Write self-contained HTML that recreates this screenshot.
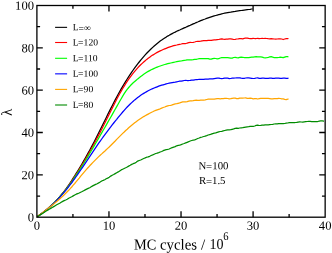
<!DOCTYPE html>
<html><head><meta charset="utf-8"><title>plot</title>
<style>html,body{margin:0;padding:0;background:#fff;overflow:hidden}svg{display:block;will-change:transform}text{font-family:"Liberation Serif",serif;fill:#000}</style></head><body>
<svg width="332" height="253" viewBox="0 0 332 253">
<rect x="0" y="0" width="332" height="253" fill="#fff"/>
<g fill="none" stroke-linejoin="round" stroke-linecap="butt" stroke-width="1.25">
<polyline stroke="#000000" points="37.2,216.8 38.7,215.7 40.2,214.6 41.7,213.4 43.2,212.3 44.7,211.1 46.2,209.9 47.7,208.6 49.2,207.3 50.7,206.0 52.2,204.6 53.7,203.2 55.2,201.7 56.7,200.1 58.2,198.5 59.7,196.8 61.2,195.0 62.7,193.2 64.2,191.3 65.7,189.3 67.2,187.2 68.7,185.1 70.2,182.9 71.7,180.6 73.2,178.2 74.7,175.9 76.2,173.4 77.7,171.0 79.2,168.5 80.7,166.0 82.2,163.5 83.7,160.9 85.2,158.3 86.7,155.6 88.2,152.9 89.7,150.2 91.2,147.4 92.7,144.6 94.2,141.7 95.7,138.8 97.2,135.8 98.7,132.8 100.2,129.8 101.7,126.8 103.2,123.7 104.7,120.7 106.2,117.7 107.7,114.6 109.2,111.6 110.7,108.6 112.2,105.7 113.7,102.8 115.2,99.9 116.7,97.1 118.2,94.3 119.7,91.6 121.2,88.9 122.7,86.4 124.2,83.8 125.7,81.4 127.2,79.0 128.7,76.6 130.2,74.4 131.7,72.2 133.2,70.0 134.7,67.9 136.2,65.9 137.7,63.9 139.2,62.0 140.7,60.1 142.2,58.3 143.7,56.6 145.2,54.9 146.7,53.3 148.2,51.7 149.7,50.2 151.2,48.8 152.7,47.4 154.2,46.0 155.7,44.7 157.2,43.5 158.7,42.3 160.2,41.1 161.7,40.1 163.2,39.0 164.7,38.0 166.2,37.1 167.7,36.1 169.2,35.3 170.7,34.4 172.2,33.6 173.7,32.8 175.2,32.1 176.7,31.3 178.2,30.6 179.7,30.0 181.2,29.3 182.7,28.6 184.2,27.9 185.7,27.3 187.2,26.6 188.7,25.9 190.2,25.3 191.7,24.6 193.2,23.9 194.7,23.3 196.2,22.6 197.7,22.0 199.2,21.3 200.7,20.7 202.2,20.1 203.7,19.5 205.2,19.0 206.7,18.4 208.2,17.9 209.7,17.4 211.2,16.9 212.7,16.4 214.2,15.9 215.7,15.5 217.2,15.1 218.7,14.7 220.2,14.3 221.7,13.9 223.2,13.5 224.7,13.2 226.2,12.9 227.7,12.6 229.2,12.3 230.7,12.1 232.2,11.8 233.7,11.6 235.2,11.4 236.7,11.1 238.2,10.9 239.7,10.7 241.2,10.5 242.7,10.3 244.2,10.1 245.7,9.9 247.2,9.7 248.7,9.5 250.2,9.3 251.7,9.0 252.6,8.9"/>
<polyline stroke="#ff0000" points="37.2,216.8 38.7,215.6 40.2,214.5 41.7,213.4 43.2,212.2 44.7,211.1 46.2,209.9 47.7,208.7 49.2,207.4 50.7,206.1 52.2,204.8 53.7,203.4 55.2,201.9 56.7,200.3 58.2,198.7 59.7,197.0 61.2,195.2 62.7,193.3 64.2,191.4 65.7,189.5 67.2,187.5 68.7,185.4 70.2,183.3 71.7,181.1 73.2,178.9 74.7,176.6 76.2,174.3 77.7,172.0 79.2,169.6 80.7,167.1 82.2,164.7 83.7,162.2 85.2,159.6 86.7,157.0 88.2,154.4 89.7,151.7 91.2,149.0 92.7,146.3 94.2,143.5 95.7,140.7 97.2,137.9 98.7,135.1 100.2,132.2 101.7,129.2 103.2,126.3 104.7,123.3 106.2,120.3 107.7,117.3 109.2,114.3 110.7,111.3 112.2,108.2 113.7,105.2 115.2,102.2 116.7,99.3 118.2,96.5 119.7,93.8 121.2,91.1 122.7,88.5 124.2,86.1 125.7,83.7 127.2,81.4 128.7,79.2 130.2,77.1 131.7,75.1 133.2,73.2 134.7,71.4 136.2,69.6 137.7,67.9 139.2,66.3 140.7,64.8 142.2,63.4 143.7,62.0 145.2,60.7 146.7,59.4 148.2,58.3 149.7,57.2 151.2,56.1 152.7,55.1 154.2,54.2 155.7,53.3 157.2,52.4 158.7,51.6 160.2,50.9 161.7,50.2 163.2,49.5 164.7,48.9 166.2,48.3 167.7,47.7 169.2,47.1 170.7,46.6 172.2,46.2 173.7,45.7 175.2,45.3 176.7,45.0 178.2,44.6 179.7,44.3 181.2,44.0 182.7,43.6 184.2,43.5 185.7,43.5 187.2,43.1 188.7,42.6 190.2,42.4 191.7,42.5 193.2,42.3 194.7,42.0 196.2,41.5 197.7,41.4 199.2,41.4 200.7,41.2 202.2,40.9 203.7,40.7 205.2,40.6 206.7,40.6 208.2,40.4 209.7,40.4 211.2,40.4 212.7,40.1 214.2,39.9 215.7,39.9 217.2,39.7 218.7,39.5 220.2,39.1 221.7,38.9 223.2,39.2 224.7,39.3 226.2,39.2 227.7,39.1 229.2,38.9 230.7,38.8 232.2,39.1 233.7,39.5 235.2,39.3 236.7,39.0 238.2,38.9 239.7,38.7 241.2,38.7 242.7,38.8 244.2,38.4 245.7,38.0 247.2,38.1 248.7,38.4 250.2,38.6 251.7,38.6 253.2,38.4 254.7,38.5 256.2,38.5 257.7,38.4 259.2,38.6 260.7,38.5 262.2,38.4 263.7,38.5 265.2,38.4 266.7,38.5 268.2,38.7 269.7,38.8 271.2,38.7 272.7,38.8 274.2,39.0 275.7,39.1 277.2,39.0 278.7,38.9 280.2,38.8 281.7,39.0 283.2,39.5 284.7,39.0 286.2,38.6 287.7,38.7 288.5,38.5"/>
<polyline stroke="#00ff00" points="37.2,216.8 38.7,215.8 40.2,214.8 41.7,213.7 43.2,212.5 44.7,211.4 46.2,210.1 47.7,208.9 49.2,207.5 50.7,206.2 52.2,204.8 53.7,203.3 55.2,201.8 56.7,200.2 58.2,198.6 59.7,196.9 61.2,195.2 62.7,193.5 64.2,191.6 65.7,189.8 67.2,187.8 68.7,185.9 70.2,183.8 71.7,181.8 73.2,179.6 74.7,177.4 76.2,175.2 77.7,172.9 79.2,170.6 80.7,168.3 82.2,165.9 83.7,163.5 85.2,161.0 86.7,158.6 88.2,156.1 89.7,153.5 91.2,151.0 92.7,148.4 94.2,145.9 95.7,143.3 97.2,140.7 98.7,138.1 100.2,135.5 101.7,132.9 103.2,130.3 104.7,127.7 106.2,125.1 107.7,122.4 109.2,119.8 110.7,117.2 112.2,114.6 113.7,111.9 115.2,109.3 116.7,106.6 118.2,104.0 119.7,101.3 121.2,98.7 122.7,96.1 124.2,93.7 125.7,91.4 127.2,89.3 128.7,87.5 130.2,85.8 131.7,84.3 133.2,82.8 134.7,81.5 136.2,80.2 137.7,78.9 139.2,77.7 140.7,76.5 142.2,75.4 143.7,74.3 145.2,73.3 146.7,72.3 148.2,71.4 149.7,70.6 151.2,69.8 152.7,69.1 154.2,68.4 155.7,67.7 157.2,67.1 158.7,66.5 160.2,66.0 161.7,65.5 163.2,65.0 164.7,64.5 166.2,64.1 167.7,63.7 169.2,63.3 170.7,63.0 172.2,62.7 173.7,62.3 175.2,62.0 176.7,61.7 178.2,61.4 179.7,61.2 181.2,61.0 182.7,60.6 184.2,60.4 185.7,60.2 187.2,59.9 188.7,59.8 190.2,59.8 191.7,59.8 193.2,59.7 194.7,59.4 196.2,59.3 197.7,59.0 199.2,58.7 200.7,58.6 202.2,58.7 203.7,58.7 205.2,58.7 206.7,58.6 208.2,58.6 209.7,59.1 211.2,59.2 212.7,58.6 214.2,58.3 215.7,58.5 217.2,58.8 218.7,58.7 220.2,58.0 221.7,57.7 223.2,57.6 224.7,57.5 226.2,57.5 227.7,57.7 229.2,57.9 230.7,58.2 232.2,58.1 233.7,57.5 235.2,57.3 236.7,57.6 238.2,57.8 239.7,57.4 241.2,57.1 242.7,57.3 244.2,57.5 245.7,57.5 247.2,57.7 248.7,57.6 250.2,57.3 251.7,57.1 253.2,57.1 254.7,56.9 256.2,56.7 257.7,56.8 259.2,56.9 260.7,56.9 262.2,57.2 263.7,57.7 265.2,57.8 266.7,57.7 268.2,57.5 269.7,56.9 271.2,56.7 272.7,57.2 274.2,57.6 275.7,57.6 277.2,57.7 278.7,57.5 280.2,57.1 281.7,57.4 283.2,57.7 284.7,57.1 286.2,56.6 287.7,56.7 288.4,56.9"/>
<polyline stroke="#0000ff" points="37.2,216.8 38.7,215.8 40.2,214.7 41.7,213.6 43.2,212.5 44.7,211.3 46.2,210.1 47.7,208.9 49.2,207.6 50.7,206.2 52.2,204.8 53.7,203.4 55.2,201.9 56.7,200.4 58.2,198.9 59.7,197.3 61.2,195.6 62.7,193.9 64.2,192.2 65.7,190.4 67.2,188.6 68.7,186.7 70.2,184.7 71.7,182.8 73.2,180.7 74.7,178.7 76.2,176.5 77.7,174.4 79.2,172.2 80.7,170.0 82.2,167.8 83.7,165.6 85.2,163.3 86.7,161.1 88.2,158.8 89.7,156.6 91.2,154.3 92.7,152.1 94.2,149.8 95.7,147.6 97.2,145.4 98.7,143.2 100.2,141.1 101.7,139.0 103.2,136.9 104.7,134.8 106.2,132.8 107.7,130.8 109.2,128.8 110.7,126.9 112.2,124.9 113.7,123.0 115.2,121.1 116.7,119.3 118.2,117.4 119.7,115.6 121.2,113.8 122.7,112.0 124.2,110.3 125.7,108.6 127.2,107.0 128.7,105.5 130.2,104.0 131.7,102.6 133.2,101.2 134.7,99.9 136.2,98.7 137.7,97.5 139.2,96.4 140.7,95.3 142.2,94.3 143.7,93.4 145.2,92.5 146.7,91.6 148.2,90.8 149.7,90.0 151.2,89.3 152.7,88.6 154.2,88.0 155.7,87.4 157.2,86.8 158.7,86.2 160.2,85.7 161.7,85.2 163.2,84.8 164.7,84.4 166.2,83.9 167.7,83.5 169.2,83.2 170.7,82.9 172.2,82.6 173.7,82.3 175.2,82.1 176.7,81.8 178.2,81.5 179.7,81.2 181.2,81.1 182.7,80.8 184.2,80.5 185.7,80.4 187.2,80.5 188.7,80.5 190.2,80.4 191.7,80.1 193.2,80.1 194.7,79.8 196.2,79.5 197.7,79.5 199.2,79.4 200.7,79.4 202.2,79.4 203.7,79.4 205.2,79.2 206.7,79.0 208.2,79.1 209.7,78.9 211.2,78.8 212.7,78.9 214.2,78.6 215.7,78.4 217.2,78.2 218.7,78.1 220.2,78.4 221.7,78.6 223.2,78.4 224.7,78.1 226.2,78.0 227.7,78.2 229.2,78.6 230.7,78.5 232.2,78.2 233.7,78.1 235.2,78.0 236.7,77.9 238.2,77.8 239.7,77.9 241.2,78.2 242.7,78.4 244.2,78.3 245.7,78.0 247.2,77.9 248.7,77.9 250.2,78.1 251.7,78.3 253.2,78.5 254.7,78.4 256.2,78.0 257.7,77.9 259.2,78.3 260.7,78.4 262.2,78.1 263.7,78.2 265.2,78.4 266.7,78.3 268.2,78.4 269.7,78.2 271.2,78.1 272.7,78.4 274.2,78.4 275.7,78.2 277.2,78.2 278.7,78.1 280.2,78.3 281.7,78.3 283.2,78.2 284.7,78.2 286.2,78.3 287.7,78.3 288.5,78.1"/>
<polyline stroke="#ffa500" points="37.2,216.8 38.7,215.6 40.2,214.5 41.7,213.4 43.2,212.2 44.7,211.1 46.2,209.9 47.7,208.8 49.2,207.6 50.7,206.5 52.2,205.3 53.7,204.1 55.2,202.8 56.7,201.6 58.2,200.3 59.7,199.0 61.2,197.6 62.7,196.2 64.2,194.8 65.7,193.3 67.2,191.8 68.7,190.3 70.2,188.6 71.7,187.0 73.2,185.2 74.7,183.5 76.2,181.7 77.7,179.9 79.2,178.1 80.7,176.2 82.2,174.4 83.7,172.6 85.2,170.9 86.7,169.2 88.2,167.5 89.7,165.8 91.2,164.2 92.7,162.6 94.2,161.1 95.7,159.6 97.2,158.1 98.7,156.6 100.2,155.2 101.7,153.9 103.2,152.5 104.7,151.2 106.2,149.8 107.7,148.4 109.2,147.0 110.7,145.5 112.2,144.0 113.7,142.5 115.2,141.0 116.7,139.4 118.2,137.9 119.7,136.4 121.2,134.9 122.7,133.4 124.2,132.0 125.7,130.5 127.2,129.2 128.7,127.8 130.2,126.5 131.7,125.2 133.2,124.0 134.7,122.8 136.2,121.7 137.7,120.6 139.2,119.6 140.7,118.6 142.2,117.6 143.7,116.6 145.2,115.7 146.7,114.9 148.2,114.1 149.7,113.3 151.2,112.5 152.7,111.8 154.2,111.0 155.7,110.4 157.2,109.8 158.7,109.3 160.2,108.8 161.7,108.1 163.2,107.5 164.7,107.0 166.2,106.4 167.7,105.9 169.2,105.5 170.7,105.3 172.2,104.9 173.7,104.3 175.2,103.9 176.7,103.7 178.2,103.3 179.7,102.9 181.2,102.4 182.7,101.9 184.2,101.9 185.7,101.9 187.2,101.6 188.7,101.1 190.2,100.8 191.7,100.8 193.2,100.6 194.7,100.3 196.2,100.1 197.7,100.3 199.2,100.3 200.7,100.1 202.2,100.0 203.7,100.1 205.2,99.9 206.7,99.5 208.2,99.1 209.7,99.0 211.2,99.0 212.7,99.2 214.2,99.1 215.7,98.8 217.2,98.6 218.7,98.6 220.2,98.8 221.7,98.7 223.2,98.6 224.7,98.4 226.2,98.3 227.7,98.5 229.2,98.9 230.7,98.7 232.2,98.3 233.7,98.1 235.2,98.2 236.7,98.7 238.2,98.7 239.7,98.1 241.2,98.0 242.7,98.2 244.2,98.0 245.7,97.9 247.2,98.3 248.7,98.4 250.2,98.1 251.7,98.4 253.2,98.8 254.7,98.7 256.2,98.7 257.7,99.0 259.2,98.7 260.7,98.4 262.2,98.4 263.7,98.4 265.2,98.4 266.7,98.3 268.2,98.4 269.7,98.6 271.2,98.8 272.7,98.9 274.2,98.7 275.7,98.7 277.2,98.6 278.7,98.3 280.2,98.5 281.7,98.8 283.2,98.8 284.7,99.3 286.2,99.6 287.7,99.1 288.5,98.8"/>
<polyline stroke="#008b00" points="37.2,216.8 38.7,215.8 40.2,214.8 41.7,213.9 43.2,212.9 44.7,211.9 46.2,211.0 47.7,210.1 49.2,209.2 50.7,208.4 52.2,207.5 53.7,206.6 55.2,205.7 56.7,204.8 58.2,204.0 59.7,203.3 61.2,202.3 62.7,201.4 64.2,200.6 65.7,200.0 67.2,199.2 68.7,198.2 70.2,197.5 71.7,196.8 73.2,195.9 74.7,195.0 76.2,194.2 77.7,193.6 79.2,193.0 80.7,192.2 82.2,191.5 83.7,190.7 85.2,189.9 86.7,189.1 88.2,188.4 89.7,187.7 91.2,186.8 92.7,185.9 94.2,185.1 95.7,184.4 97.2,183.7 98.7,182.9 100.2,182.0 101.7,181.0 103.2,180.4 104.7,179.7 106.2,178.8 107.7,178.1 109.2,177.2 110.7,176.1 112.2,175.2 113.7,174.5 115.2,173.6 116.7,172.7 118.2,171.9 119.7,170.9 121.2,169.9 122.7,169.2 124.2,168.5 125.7,167.8 127.2,167.0 128.7,166.1 130.2,165.3 131.7,164.4 133.2,163.7 134.7,163.2 136.2,162.2 137.7,161.1 139.2,160.5 140.7,160.0 142.2,159.2 143.7,158.5 145.2,157.9 146.7,157.2 148.2,156.9 149.7,156.3 151.2,155.5 152.7,154.9 154.2,154.2 155.7,153.5 157.2,153.1 158.7,152.6 160.2,152.0 161.7,151.5 163.2,150.7 164.7,150.1 166.2,149.7 167.7,149.4 169.2,149.0 170.7,148.3 172.2,147.6 173.7,147.1 175.2,146.6 176.7,145.8 178.2,145.4 179.7,145.1 181.2,144.6 182.7,144.0 184.2,143.5 185.7,142.9 187.2,142.3 188.7,141.7 190.2,141.0 191.7,140.5 193.2,140.2 194.7,139.9 196.2,139.2 197.7,138.5 199.2,138.0 200.7,137.4 202.2,137.0 203.7,136.5 205.2,136.1 206.7,135.6 208.2,135.0 209.7,134.6 211.2,134.2 212.7,133.6 214.2,133.2 215.7,132.9 217.2,132.4 218.7,131.9 220.2,131.5 221.7,131.3 223.2,130.9 224.7,130.5 226.2,130.2 227.7,129.9 229.2,129.8 230.7,129.7 232.2,129.3 233.7,128.9 235.2,128.4 236.7,128.2 238.2,128.3 239.7,128.0 241.2,127.8 242.7,127.7 244.2,127.4 245.7,127.1 247.2,126.9 248.7,126.7 250.2,126.4 251.7,126.4 253.2,126.4 254.7,126.0 256.2,125.4 257.7,125.2 259.2,125.5 260.7,125.4 262.2,125.2 263.7,125.1 265.2,124.8 266.7,124.8 268.2,124.8 269.7,124.6 271.2,124.5 272.7,124.3 274.2,124.0 275.7,123.9 277.2,123.9 278.7,123.6 280.2,123.5 281.7,123.6 283.2,123.7 284.7,123.5 286.2,123.2 287.7,123.0 289.2,122.7 290.7,122.6 292.2,122.6 293.7,122.5 295.2,122.5 296.7,122.4 298.2,122.1 299.7,121.9 301.2,122.0 302.7,122.1 304.2,121.9 305.7,121.7 307.2,121.5 308.7,121.4 310.2,121.4 311.7,121.6 313.2,121.7 314.7,121.5 316.2,121.5 317.7,121.5 319.2,121.1 320.7,120.8 322.2,120.9 323.7,121.1 324.0,121.1"/>
</g>
<g stroke="#000" stroke-width="1.30" fill="none">
<rect x="36.90" y="5.50" width="288.25" height="211.70"/>
<path d="M72.93 217.20v-3.20M72.93 5.50v3.20M108.96 217.20v-5.90M108.96 5.50v5.90M144.99 217.20v-3.20M144.99 5.50v3.20M181.03 217.20v-5.90M181.03 5.50v5.90M217.06 217.20v-3.20M217.06 5.50v3.20M253.09 217.20v-5.90M253.09 5.50v5.90M289.12 217.20v-3.20M289.12 5.50v3.20M36.90 196.03h3.20M325.15 196.03h-3.20M36.90 174.86h5.90M325.15 174.86h-5.90M36.90 153.69h3.20M325.15 153.69h-3.20M36.90 132.52h5.90M325.15 132.52h-5.90M36.90 111.35h3.20M325.15 111.35h-3.20M36.90 90.18h5.90M325.15 90.18h-5.90M36.90 69.01h3.20M325.15 69.01h-3.20M36.90 47.84h5.90M325.15 47.84h-5.90M36.90 26.67h3.20M325.15 26.67h-3.20"/>
</g>
<text transform="translate(36.90,229.70) rotate(0.03)" font-size="12.60px" text-anchor="middle">0</text>
<text transform="translate(108.96,229.70) rotate(0.03)" font-size="12.60px" text-anchor="middle">10</text>
<text transform="translate(181.03,229.70) rotate(0.03)" font-size="12.60px" text-anchor="middle">20</text>
<text transform="translate(253.09,229.70) rotate(0.03)" font-size="12.60px" text-anchor="middle">30</text>
<text transform="translate(325.15,229.70) rotate(0.03)" font-size="12.60px" text-anchor="middle">40</text>
<text transform="translate(34.00,221.50) rotate(0.03)" font-size="12.60px" text-anchor="end">0</text>
<text transform="translate(34.00,179.16) rotate(0.03)" font-size="12.60px" text-anchor="end">20</text>
<text transform="translate(34.00,136.82) rotate(0.03)" font-size="12.60px" text-anchor="end">40</text>
<text transform="translate(34.00,94.48) rotate(0.03)" font-size="12.60px" text-anchor="end">60</text>
<text transform="translate(34.00,52.14) rotate(0.03)" font-size="12.60px" text-anchor="end">80</text>
<text transform="translate(34.00,9.80) rotate(0.03)" font-size="12.60px" text-anchor="end">100</text>
<text transform="translate(133.90,249.40) rotate(0.03)" font-size="15.10px" textLength="22.30" lengthAdjust="spacingAndGlyphs">MC</text>
<text transform="translate(159.95,249.40) rotate(0.03)" font-size="15.10px" textLength="37.10" lengthAdjust="spacingAndGlyphs">cycles</text>
<text transform="translate(200.90,249.40) rotate(0.03)" font-size="15.10px">/</text>
<text transform="translate(209.60,249.40) rotate(0.03)" font-size="15.10px" textLength="14.00" lengthAdjust="spacingAndGlyphs">10</text>
<text transform="translate(223.20,240.40) rotate(0.03)" font-size="11.60px" textLength="5.30" lengthAdjust="spacingAndGlyphs">6</text>
<text transform="translate(11.80,112.30) rotate(-89.97)" font-size="15.00px" text-anchor="middle">λ</text>
<line x1="55.1" x2="67.1" y1="27.35" y2="27.35" stroke="#000000" stroke-width="1.10"/>
<text x="72.80" y="30.25" font-size="9.60px" rotate="0.03 0 0.03" dx="0 -0.3 0.2" dy="0 1.3 -0.5">L=∞</text>
<line x1="55.1" x2="67.1" y1="42.50" y2="42.50" stroke="#ff0000" stroke-width="1.10"/>
<text x="72.80" y="45.40" font-size="9.60px" rotate="0.03 0 0.03" dx="0 -0.6 0.1" dy="0 0.5 -0.5">L=120</text>
<line x1="55.1" x2="67.1" y1="58.30" y2="58.30" stroke="#00ff00" stroke-width="1.10"/>
<text x="72.80" y="61.20" font-size="9.60px" rotate="0.03 0 0.03" dx="0 -0.6 0.1" dy="0 0.5 -0.5">L=110</text>
<line x1="55.1" x2="67.1" y1="73.85" y2="73.85" stroke="#0000ff" stroke-width="1.10"/>
<text x="72.80" y="76.75" font-size="9.60px" rotate="0.03 0 0.03" dx="0 -0.6 0.1" dy="0 0.5 -0.5">L=100</text>
<line x1="55.1" x2="67.1" y1="89.40" y2="89.40" stroke="#ffa500" stroke-width="1.10"/>
<text x="72.80" y="92.30" font-size="9.60px" rotate="0.03 0 0.03" dx="0 -0.6 0.1" dy="0 0.5 -0.5">L=90</text>
<line x1="55.1" x2="67.1" y1="105.00" y2="105.00" stroke="#008b00" stroke-width="1.10"/>
<text x="72.80" y="107.90" font-size="9.60px" rotate="0.03 0 0.03" dx="0 -0.6 0.1" dy="0 0.5 -0.5">L=80</text>
<text x="198.60" y="169.25" font-size="10.80px" rotate="0.03 0 0.03" dx="0 -0.3 0.1" dy="0 0.5 -0.5">N=100</text>
<text x="198.90" y="184.00" font-size="10.80px" rotate="0.03 0 0.03" dx="0 -0.2 0" dy="0 0.5 -0.5">R=1.5</text>
</svg></body></html>
